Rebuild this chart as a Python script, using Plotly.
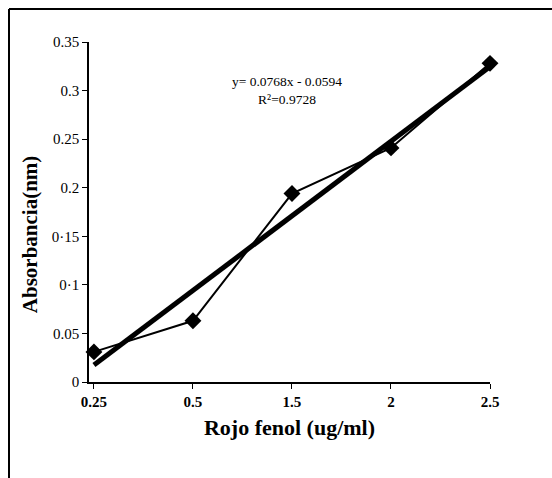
import plotly.graph_objects as go

categories = ["0.25", "0.5", "1.5", "2", "2.5"]
absorbance = [0.031, 0.063, 0.194, 0.241, 0.328]
slope = 0.0768
intercept = -0.0594
r2 = 0.9728
y_ticks = [0, 0.05, 0.1, 0.15, 0.2, 0.25, 0.3, 0.35]
y_tick_labels = ["0", "0.05", "0·1", "0·15", "0.2", "0.25", "0.3", "0.35"]

trend = [slope * (i + 1) + intercept for i in range(len(categories))]

fig = go.Figure()
fig.add_trace(go.Scatter(
    x=categories, y=trend, mode="lines", cliponaxis=False,
    line=dict(color="black", width=5), hoverinfo="skip", showlegend=False))
fig.add_trace(go.Scatter(
    x=categories, y=absorbance, mode="lines+markers", cliponaxis=False,
    line=dict(color="black", width=2),
    marker=dict(symbol="diamond", size=13, color="black"),
    showlegend=False))

serif = "Liberation Serif"
fig.update_layout(
    width=552, height=478,
    margin=dict(l=89, r=62, t=42, b=96),
    paper_bgcolor="white", plot_bgcolor="white",
    font=dict(family=serif, color="black"),
    xaxis=dict(
        type="category", range=[-0.05, 4.0],
        showline=True, linecolor="black", linewidth=1.5,
        ticks="outside", ticklen=5, tickcolor="black",
        tickfont=dict(family=serif, size=15, color="black", weight="bold"),
        showgrid=False, zeroline=False,
        title=dict(text="<b>Rojo fenol (ug/ml)</b>", font=dict(family=serif, size=22), standoff=11),
    ),
    yaxis=dict(
        range=[0, 0.35], tickvals=y_ticks, ticktext=y_tick_labels,
        showline=True, linecolor="black", linewidth=1.5,
        ticks="outside", ticklen=5, tickcolor="black",
        tickfont=dict(family=serif, size=15, color="black"),
        showgrid=False, zeroline=False,
    ),
    annotations=[
        dict(
            xref="paper", yref="paper", x=0.495, y=0.857,
            xanchor="center", yanchor="middle",
            text=f"y= {slope}x - {abs(intercept)}<br>R²=0{str(r2)[1:]}",
            showarrow=False, align="center",
            font=dict(family=serif, size=13.5, color="black")),
        dict(
            xref="paper", yref="paper", x=-0.147, y=0.435, textangle=-90,
            xanchor="center", yanchor="middle",
            text="<b>Absorbancia(nm)</b>", showarrow=False,
            font=dict(family=serif, size=21, color="black")),
    ],
    shapes=[
        dict(type="line", xref="paper", yref="paper", x0=-0.1995, x1=1.2, y0=1.097, y1=1.097,
             line=dict(color="black", width=2)),
        dict(type="line", xref="paper", yref="paper", x0=-0.1995, x1=-0.1995, y0=1.097, y1=-0.3,
             line=dict(color="black", width=2)),
    ],
)

fig.write_html("out.html")
